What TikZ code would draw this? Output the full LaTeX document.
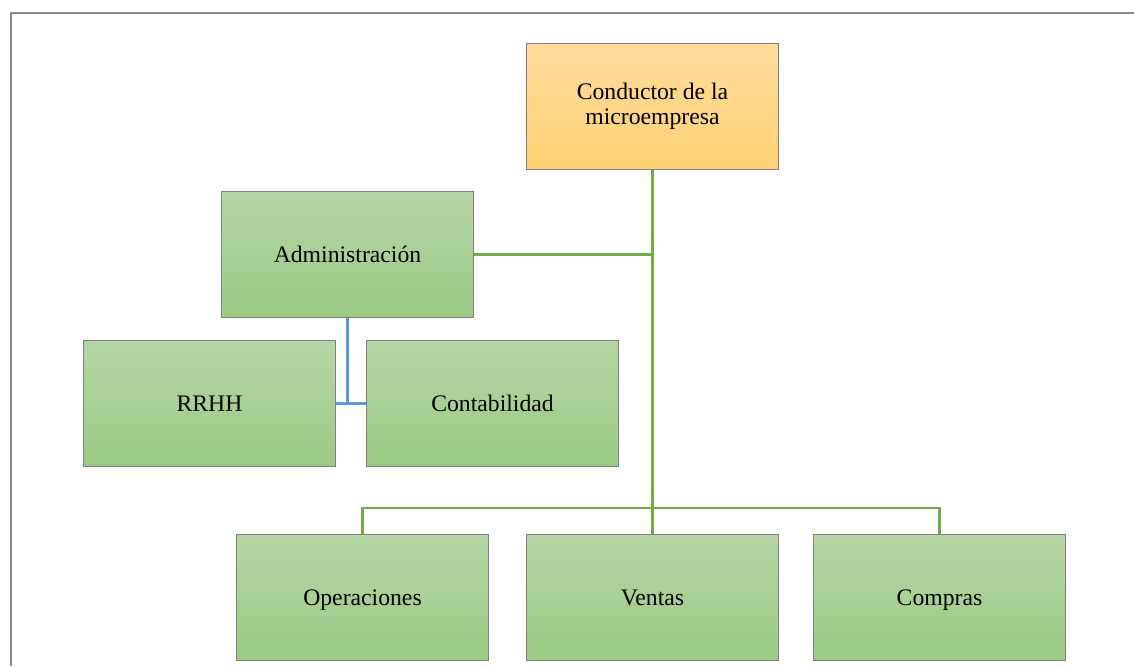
\documentclass[tikz,border=0pt]{standalone}
\usepackage{fontspec}
\setmainfont{Liberation Serif}
\definecolor{framegray}{HTML}{8A8A8A}
\definecolor{boxline}{HTML}{7F7F7F}
\definecolor{gtop}{HTML}{B5D6A6}
\definecolor{gbot}{HTML}{9CCA84}
\definecolor{otop}{HTML}{FFDC9E}
\definecolor{obot}{HTML}{FFD173}
\definecolor{linkgreen}{HTML}{70AD47}
\definecolor{linkblue}{HTML}{5B9BD5}
\begin{document}
\begin{tikzpicture}[x=1pt,y=-1pt,
  unit/.style={draw=boxline, line width=1pt, minimum width=252pt, minimum height=126pt,
    anchor=north west, align=center, inner sep=0pt,
    font=\fontsize{23.7}{25.5}\selectfont},
  greenunit/.style={unit, top color=gtop, bottom color=gbot,
    text height=18.5pt, text depth=2.5pt},
  headunit/.style={unit, top color=otop, bottom color=obot},
  glink/.style={draw=linkgreen, line width=2.6pt},
  blink/.style={draw=linkblue, line width=2.6pt}]
  \useasboundingbox (0,0) rectangle (1134,666);
  % outer frame
  \draw[framegray, line width=2pt] (11,666) |- (1134,13);

  % units
  \node[headunit]  (cond)   at (526,43)  {Conductor de la\\microempresa};
  \node[greenunit] (admin)  at (221,191) {Administración};
  \node[greenunit] (rrhh)   at (83,340)  {RRHH};
  \node[greenunit] (conta)  at (366,340) {Contabilidad};
  \node[greenunit] (ops)    at (236,534) {Operaciones};
  \node[greenunit] (ventas) at (526,534) {Ventas};
  \node[greenunit] (compras) at (813,534) {Compras};

  % green connectors
  \coordinate (bus) at (652,508);
  \draw[glink] (cond.south) -- (ventas.north);
  \draw[glink] (admin.east) -- (admin.east -| cond.south);
  \draw[glink] (ops.north) |- (bus) -| (compras.north);

  % blue connectors
  \draw[blink] (admin.south) -- (admin.south |- rrhh.east);
  \draw[blink] (rrhh.east) -- (conta.west);
\end{tikzpicture}
\end{document}
